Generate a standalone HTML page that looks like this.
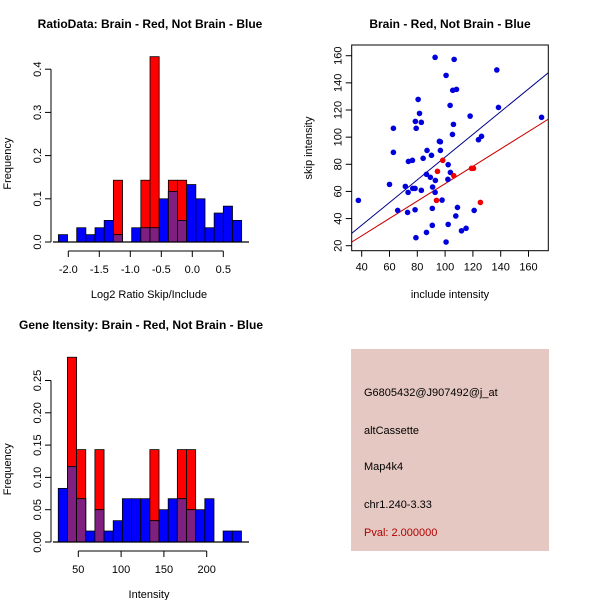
<!DOCTYPE html>
<html><head><meta charset="utf-8"><style>
body{margin:0;background:#fff}
svg{display:block;font-family:"Liberation Sans",sans-serif}
</style></head><body>
<svg id="c" width="600" height="600" viewBox="0 0 600 600">
<rect width="600" height="600" fill="#fff"/>
<text x="150" y="28" text-anchor="middle" font-size="12" font-weight="bold">RatioData: Brain - Red, Not Brain - Blue</text>
<text x="450" y="28" text-anchor="middle" font-size="12" font-weight="bold">Brain - Red, Not Brain - Blue</text>
<text x="141" y="329" text-anchor="middle" font-size="12" font-weight="bold">Gene Itensity: Brain - Red, Not Brain - Blue</text>
<g>
<rect x="351" y="349" width="198" height="202" fill="#e6c8c2"/>
<text x="364" y="396" font-size="11">G6805432@J907492@j_at</text>
<text x="364" y="434" font-size="11">altCassette</text>
<text x="364" y="470" font-size="11">Map4k4</text>
<text x="364" y="508" font-size="11">chr1.240-3.33</text>
<text x="364" y="536" font-size="11" fill="#b00000">Pval: 2.000000</text>
</g>
</svg>
<script>
// Histogram 1 data
const ratioStart=-2.16, ratioStep=0.1478;
const ratioBlue=[0.017,0,0.033,0.017,0.033,0.05,0.017,0,0.033,0.033,0.033,0.1,0.117,0.05,0.133,0.1,0.033,0.067,0.083,0.05];
const ratioRed=[0,0,0,0,0,0,0.143,0,0,0.143,0.429,0,0.143,0.143,0,0,0,0,0,0];
const ratioXTicks=[-2.0,-1.5,-1.0,-0.5,0.0,0.5];
const ratioXLabels=["-2.0","-1.5","-1.0","-0.5","0.0","0.5"];
const ratioYTicks=[0,0.1,0.2,0.3,0.4];
const ratioYLabels=["0.0","0.1","0.2","0.3","0.4"];
// Histogram 2 data
const intStart=26.6, intStep=10.7;
const intBlue=[0.083,0.117,0.067,0.017,0.05,0.017,0.033,0.067,0.067,0.067,0.033,0.05,0.067,0.067,0.05,0.05,0.067,0,0.017,0.017];
const intRed=[0,0.286,0.143,0,0.143,0,0,0,0,0,0.143,0,0,0.143,0.143,0,0,0,0,0];
const intXTicks=[50,100,150,200];
const intXLabels=["50","100","150","200"];
const intYTicks=[0,0.05,0.1,0.15,0.2,0.25];
const intYLabels=["0.00","0.05","0.10","0.15","0.20","0.25"];
// Scatter data
const blueX=[37.6,60,62.8,62.8,65.9,71.4,73.4,73.6,76.5,73,76.7,78.4,78.4,79,79.2,78.6,80.6,81.6,82.9,82.9,84.2,86.6,87,86.6,89.4,90.2,91,90.8,90.8,92.8,92.8,93,95.9,96.6,96.6,97.8,100.7,100.7,102.2,102,102.2,103.6,103.8,105.3,105.5,106,106.5,107.7,108.2,108.9,111.8,115.1,118,120.9,124,126.2,137.2,138.4,169.4];
const blueY=[53.4,65.2,106.5,88.8,46,63.7,59.3,82.1,82.9,44.5,62.2,62.2,46.5,25.9,106.5,111.6,127.8,117.5,110.9,60.8,84.4,29.8,90.2,72.6,70.4,86.6,63.2,47.5,35,59.3,158.8,68.1,96.9,90.2,96.6,53.6,145.5,22.7,79.7,68.9,35.7,123.4,74,102,134.5,109.4,157.3,41.9,135.2,48.2,31,32.8,115.5,46,98.1,100.6,149.5,121.9,114.6];
const redX=[94.5,93.8,98.3,106.2,119,120.4,125.4];
const redY=[74.8,53.4,82.9,71.6,77,77,51.9];
const blueLine=[1.6,0.837];
const redLine=[1.7,0.64];
const scXTicks=[40,60,80,100,120,140,160];
const scYTicks=[20,40,60,80,100,120,140,160];

const svg=document.getElementById('c');
const NS='http://www.w3.org/2000/svg';
function mk(tag,attrs,parent){const e=document.createElementNS(NS,tag);for(const k in attrs)e.setAttribute(k,attrs[k]);(parent||svg).appendChild(e);return e;}
function txt(x,y,s,size,anchor,rot,parent){const t=mk('text',{x:x,y:y,'font-size':size,'text-anchor':anchor||'middle'},parent);if(rot)t.setAttribute('transform','rotate(-90 '+x+' '+y+')');t.textContent=s;return t;}

function hist(cfg){
  const g=mk('g',{});
  
  
  const X=v=>cfg.x0+(v-cfg.xv0)*cfg.xs, Y=v=>cfg.y0-v*cfg.ys;
  for(let i=0;i<cfg.blue.length;i++){
    const a=X(cfg.start+i*cfg.step), b=X(cfg.start+(i+1)*cfg.step);
    const bl=cfg.blue[i], rd=cfg.red[i];
    if(rd>0){const r=mk('rect',{x:a,y:Y(rd),width:b-a,height:Y(0)-Y(rd),fill:'#ff0000',stroke:'#000','stroke-width':0.8},g);
      
      }
    if(bl>0){const r=mk('rect',{x:a,y:Y(bl),width:b-a,height:Y(0)-Y(bl),fill:'#0000ff',stroke:'#000','stroke-width':0.8},g);
      
      }
    const m=Math.min(bl,rd);
    if(m>0){const r=mk('rect',{x:a,y:Y(m),width:b-a,height:Y(0)-Y(m),fill:'#7f1f7f',stroke:'#000','stroke-width':0.8},g);
      
      }
  }
  // y axis
  const yt=cfg.yTicks;
  mk('line',{x1:cfg.ax,y1:Y(yt[0]),x2:cfg.ax,y2:Y(yt[yt.length-1]),stroke:'#000'},g);
  yt.forEach((v,i)=>{mk('line',{x1:cfg.ax-6,y1:Y(v),x2:cfg.ax,y2:Y(v),stroke:'#000'},g);txt(cfg.ax-10,Y(v),cfg.yLabels[i],11,'middle',true,g);});
  // x axis
  const xt=cfg.xTicks,ay=cfg.y0+9;
  mk('line',{x1:X(xt[0]),y1:ay,x2:X(xt[xt.length-1]),y2:ay,stroke:'#000'},g);
  xt.forEach((v,i)=>{mk('line',{x1:X(v),y1:ay,x2:X(v),y2:ay+6,stroke:'#000'},g);txt(X(v),ay+22,cfg.xLabels[i],11,'middle',false,g);});
  // baseline
  mk('line',{x1:cfg.ax+2,y1:cfg.y0,x2:cfg.bx,y2:cfg.y0,stroke:'#000','stroke-width':1.2},g);
  txt(cfg.ax+cfg.xlabOff,cfg.y0+56,cfg.xlab,11,'middle',false,g);
  txt(11,(cfg.y0+Y(yt[yt.length-1]))/2+8,'Frequency',11,'middle',true,g);
}
hist({name:'ratio-histogram',x0:68.3,xv0:-2,xs:62,y0:242,ys:432,start:ratioStart,step:ratioStep,blue:ratioBlue,red:ratioRed,ax:51,bx:249,xTicks:ratioXTicks,xLabels:ratioXLabels,yTicks:ratioYTicks,yLabels:ratioYLabels,xlab:'Log2 Ratio Skip/Include',xlabOff:98});
hist({name:'intensity-histogram',x0:78.3,xv0:50,xs:0.856,y0:542,ys:646,start:intStart,step:intStep,blue:intBlue,red:intRed,ax:51,bx:249,xTicks:intXTicks,xLabels:intXLabels,yTicks:intYTicks,yLabels:intYLabels,xlab:'Intensity',xlabOff:98});

// scatter
(function(){
  const g=mk('g',{});
  
  
  const X=v=>361.7+(v-40)*27.8/20, Y=v=>245.7-(v-20)*27.14/20;
  const L=351.7,R=548.3,T=45,B=250.7;
  const cp=mk('clipPath',{id:'scclip'},g);mk('rect',{x:L,y:T,width:R-L,height:B-T},cp);
  const xmin=(L-361.7)*20/27.8+40, xmax=(R-361.7)*20/27.8+40;
  [[blueLine,'#00008b','blue-fit-line'],[redLine,'#cc0000','red-fit-line']].forEach(([c,col,n])=>{
    const l=mk('line',{x1:X(xmin),y1:Y(c[0]+c[1]*xmin),x2:X(xmax),y2:Y(c[0]+c[1]*xmax),stroke:col,'clip-path':'url(#scclip)'},g);
    
    
  });
  blueX.forEach((v,i)=>{const c=mk('circle',{cx:X(v),cy:Y(blueY[i]),r:2.8,fill:'#0000dd'},g);
    
    });
  redX.forEach((v,i)=>{const c=mk('circle',{cx:X(v),cy:Y(redY[i]),r:2.8,fill:'#ee0000'},g);
    
    });
  mk('rect',{x:L,y:T,width:R-L,height:B-T,fill:'none',stroke:'#000'},g);
  scXTicks.forEach(v=>{mk('line',{x1:X(v),y1:B,x2:X(v),y2:B+6,stroke:'#000'},g);txt(X(v),B+20,String(v),11,'middle',false,g);});
  scYTicks.forEach(v=>{mk('line',{x1:L-6,y1:Y(v),x2:L,y2:Y(v),stroke:'#000'},g);txt(L-10,Y(v),String(v),11,'middle',true,g);});
  txt(450,298,'include intensity',11,'middle',false,g);
  txt(312,148,'skip intensity',11,'middle',true,g);
})();
</script>
</body></html>
